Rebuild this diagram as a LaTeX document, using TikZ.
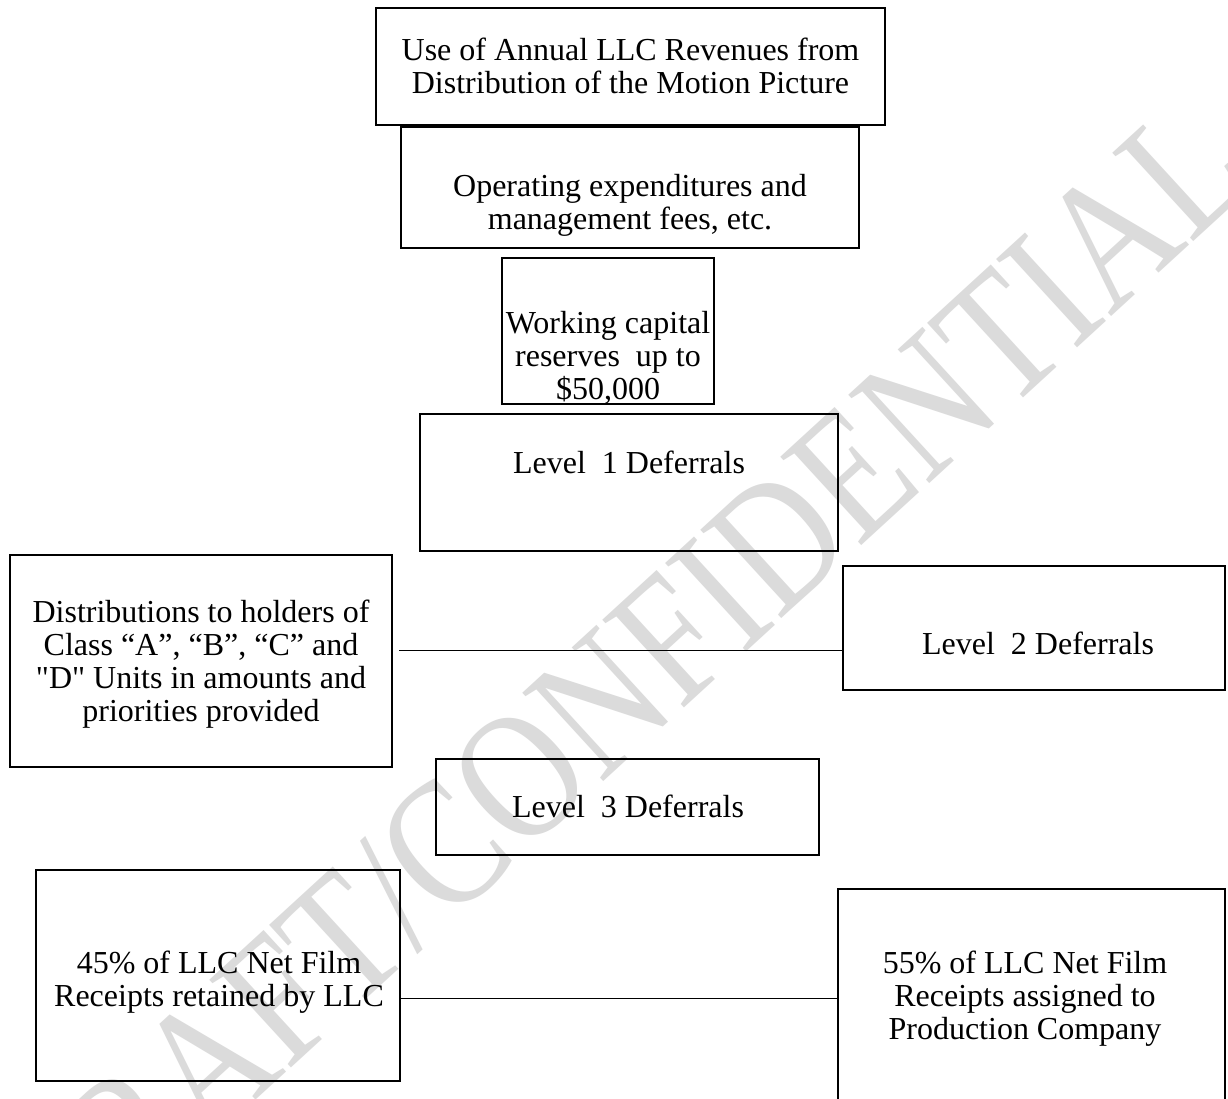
\documentclass[tikz,border=0pt]{standalone}
\usepackage{fontspec}
\setmainfont{Liberation Serif}
\newfontfamily\tnrplain{Liberation Serif}
\definecolor{wmgray}{RGB}{219,219,219}
\begin{document}
\begin{tikzpicture}[x=1pt,y=-1pt,
  box/.style={draw=black, line width=2.2pt, inner sep=0pt, outer sep=0pt},
  txt/.style={align=center, inner sep=0pt, anchor=north, font=\tnrplain\fontsize{32}{33}\selectfont},
  link/.style={draw=black, line width=1pt}]
\useasboundingbox (0,0) rectangle (1228,1099);
\fill[white] (0,0) rectangle (1228,1099);
% watermark
\node[rotate=42.5, yscale=1.22, anchor=base, inner sep=0pt, text=wmgray,
      font=\fontsize{150}{150}\selectfont] (wm) at (656,734) {DRAFT/CONFIDENTIAL};
% boxes
\node[box, minimum width=509pt, minimum height=117pt] (top) at (630.5,66.5) {};
\node[box, minimum width=458pt, minimum height=121pt] (ops) at (630,187.5) {};
\node[box, minimum width=212pt, minimum height=146pt] (wc) at (608,331) {};
\node[box, minimum width=418pt, minimum height=137pt] (l1) at (629,482.5) {};
\node[box, minimum width=382pt, minimum height=212pt] (dist) at (201,661) {};
\node[box, minimum width=382pt, minimum height=124pt] (l2) at (1034,628) {};
\node[box, minimum width=383pt, minimum height=96pt] (l3) at (627.5,807) {};
\node[box, minimum width=364pt, minimum height=211pt] (p45) at (218,975.5) {};
\node[box, minimum width=387pt, minimum height=226pt] (p55) at (1031.5,1002) {};
% texts
\node[txt] (toptxt) at (630.5,37) {\strut Use of Annual LLC Revenues from\\Distribution of the Motion Picture};
\node[txt] (opstxt) at (630,173) {\strut Operating expenditures and\\management fees, etc.};
\node[txt] (wctxt) at (608,310) {\strut Working capital\\reserves\ \ up to\\\$50,000};
\node[txt] (l1txt) at (629,450) {\strut Level\ \ 1 Deferrals};
\node[txt] (disttxt) at (201,599) {\strut Distributions to holders of\\Class “A”, “B”, “C” and\\"D" Units in amounts and\\priorities provided};
\node[txt] (l2txt) at (1038,631) {\strut Level\ \ 2 Deferrals};
\node[txt] (l3txt) at (628,794) {\strut Level\ \ 3 Deferrals};
\node[txt] (p45txt) at (219,950) {\strut 45\% of LLC Net Film\\Receipts retained by LLC};
\node[txt] (p55txt) at (1025,950) {\strut 55\% of LLC Net Film\\Receipts assigned to\\Production Company};
% connectors
\draw[link] ([shift={(7,-11)}]dist.east) -- ([shift={(0,22)}]l2.west);
\draw[link] ([shift={(0,22.5)}]p45.east) -- ([shift={(0,-4)}]p55.west);
\end{tikzpicture}
\end{document}
